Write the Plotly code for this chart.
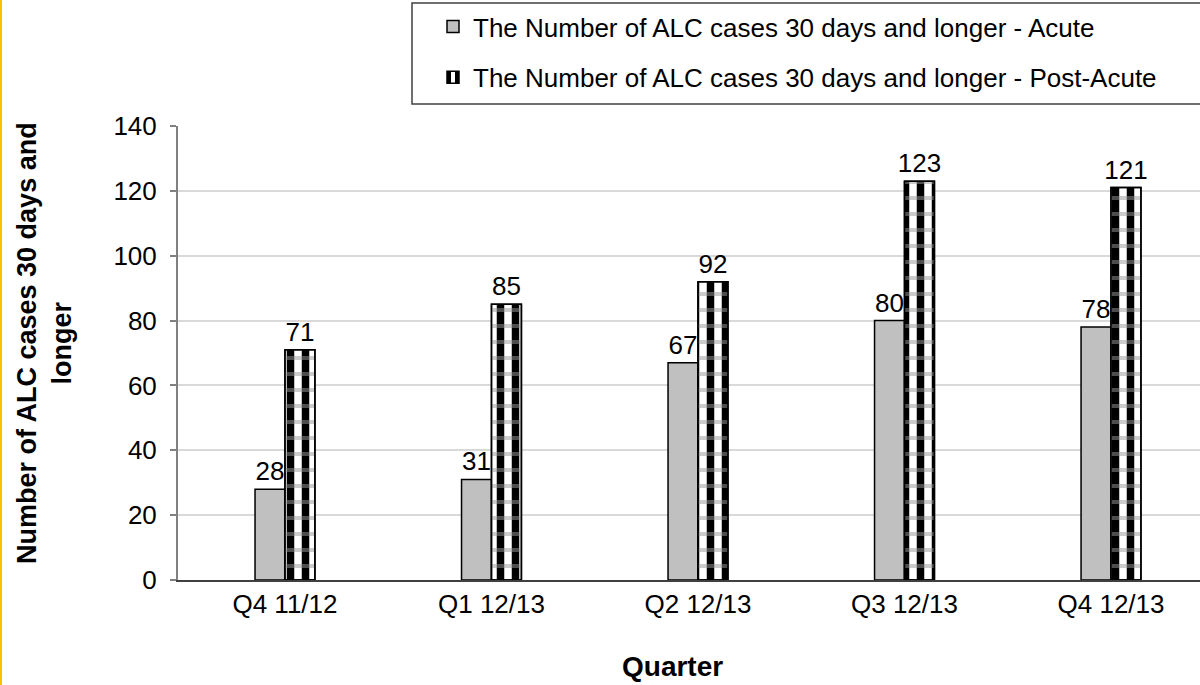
import plotly.graph_objects as go

quarters = ["Q4 11/12", "Q1 12/13", "Q2 12/13", "Q3 12/13", "Q4 12/13"]
acute = [28, 31, 67, 80, 78]
post_acute = [71, 85, 92, 123, 121]
name_acute = "The Number of ALC cases 30 days and longer - Acute"
name_post = "The Number of ALC cases 30 days and longer - Post-Acute"
y_title = "Number of ALC cases 30 days and<br>longer"
x_title = "Quarter"
y_ticks = [0, 20, 40, 60, 80, 100, 120, 140]

FONT = "Liberation Sans, Arial, sans-serif"
W, H = 1200, 685
ML, MR, MT, MB = 178, 0, 126, 105
PW, PH = W - ML - MR, H - MT - MB


def px_x(p):
    return (p - ML) / PW


def px_y(p):
    return (H - MB - p) / PH


fig = go.Figure()
fig.add_trace(go.Bar(
    x=quarters, y=acute, name=name_acute, legendgroup="a", offsetgroup="a",
    marker=dict(color="#c0c0c0", line=dict(color="black", width=1.5)),
    text=acute, textposition="outside", cliponaxis=False, constraintext="none",
    textfont=dict(size=26, color="black", family=FONT),
))
fig.add_trace(go.Bar(
    x=quarters, y=post_acute, name=name_post, legendgroup="b", offsetgroup="b",
    marker=dict(color="white", line=dict(color="black", width=1.5),
                pattern=dict(shape="|", fgcolor="black", bgcolor="white",
                             size=15, solidity=0.5, fgopacity=1)),
    text=post_acute, textposition="outside", cliponaxis=False, constraintext="none",
    textfont=dict(size=26, color="black", family=FONT),
))
# checker rows overlaid on the post-acute bars (same offset group)
fig.add_trace(go.Bar(
    x=quarters, y=post_acute, name=name_post, legendgroup="b", offsetgroup="b",
    showlegend=False, hoverinfo="skip",
    marker=dict(color="rgba(0,0,0,0)", line=dict(color="black", width=1.5),
                pattern=dict(shape="-", fgcolor="#9a9a9a", bgcolor="rgba(0,0,0,0)",
                             size=16, solidity=0.25)),
))

fig.update_layout(
    width=W, height=H,
    margin=dict(l=ML, r=MR, t=MT, b=MB, pad=0),
    paper_bgcolor="white", plot_bgcolor="white",
    font=dict(family=FONT, size=26, color="black"),
    barmode="group", bargap=0.71, bargroupgap=0,
    showlegend=True,
    legend=dict(
        x=px_x(433), y=px_y(3), xanchor="left", yanchor="top",
        bgcolor="rgba(0,0,0,0)", borderwidth=0,
        font=dict(size=26, family=FONT, color="black"),
        traceorder="grouped", tracegroupgap=14,
    ),
    xaxis=dict(
        range=[-0.518, 4.431], showgrid=False, showline=True,
        linecolor="#404040", linewidth=2, ticks="",
        tickfont=dict(size=26), fixedrange=True,
    ),
    yaxis=dict(
        range=[0, 140], tickvals=y_ticks, showgrid=True, gridcolor="#d9d9d9",
        gridwidth=1.5, showline=True, linecolor="#808080", linewidth=2,
        ticks="outside", ticklen=6, tickcolor="#808080", tickwidth=2,
        tickfont=dict(size=26), ticklabelstandoff=8, zeroline=False,
    ),
    shapes=[
        dict(type="rect", xref="paper", yref="paper",
             x0=px_x(412), x1=px_x(1215), y0=px_y(104), y1=px_y(3),
             line=dict(color="#404040", width=1.5), fillcolor="rgba(0,0,0,0)"),
        dict(type="line", xref="paper", yref="paper",
             x0=px_x(1), x1=px_x(1), y0=px_y(685), y1=px_y(0),
             line=dict(color="#FFC000", width=2)),
    ],
    annotations=[
        dict(text="<b>" + y_title + "</b>", xref="paper", yref="paper",
             x=px_x(44), y=px_y(343), textangle=-90, showarrow=False,
             font=dict(size=27, family=FONT, color="black"),
             xanchor="center", yanchor="middle"),
        dict(text="<b>" + x_title + "</b>", xref="paper", yref="paper",
             x=px_x(672), y=px_y(666), showarrow=False,
             font=dict(size=28, family=FONT, color="black"),
             xanchor="center", yanchor="middle"),
    ],
)

fig.write_html("out.html", config={"displayModeBar": False},
               post_script="document.body.style.margin='0';document.body.style.overflow='hidden';")
